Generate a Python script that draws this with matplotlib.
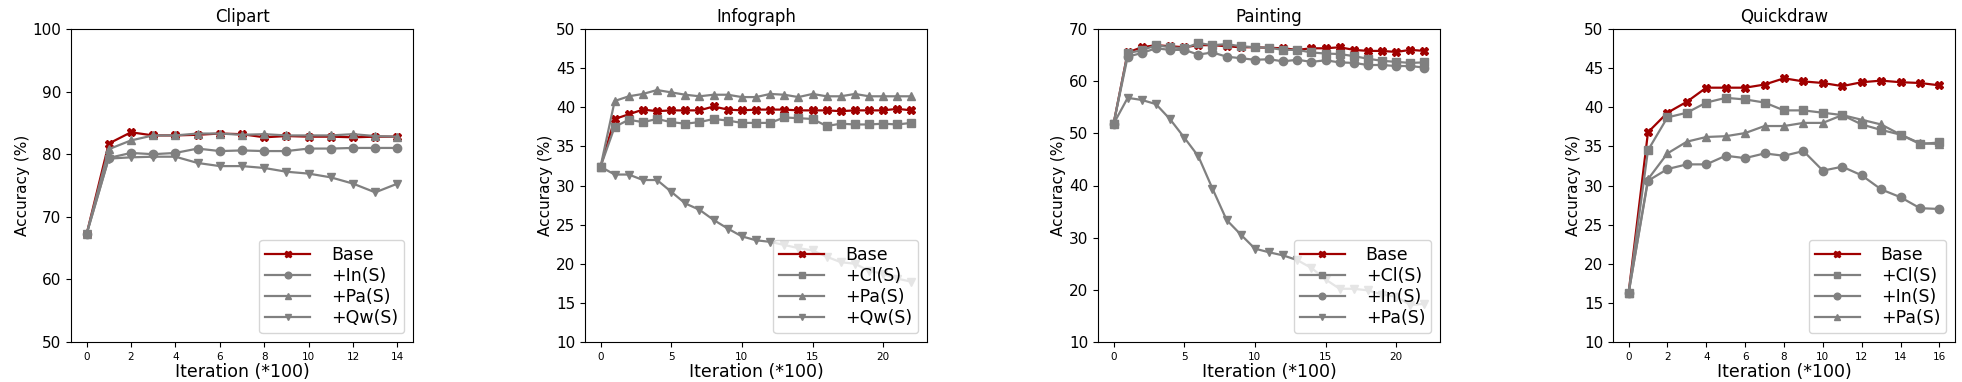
import numpy as np
import matplotlib
matplotlib.use("Agg")
import matplotlib.pyplot as plt

# Clipart panel
clip_x = np.arange(15)
clip_base = [67.2, 81.7, 83.5, 83.0, 83.0, 83.1, 83.3, 83.2, 82.7, 82.9, 82.8, 82.8, 82.7, 82.8, 82.8]
clip_in = [67.2, 79.4, 80.2, 80.0, 80.2, 80.9, 80.5, 80.6, 80.5, 80.5, 80.9, 80.9, 81.0, 81.0, 81.0]
clip_pa = [67.2, 80.8, 82.2, 83.0, 83.0, 83.3, 83.3, 83.1, 83.2, 83.0, 83.0, 83.0, 83.2, 82.9, 82.8]
clip_qw = [67.2, 79.3, 79.5, 79.6, 79.6, 78.6, 78.1, 78.1, 77.8, 77.2, 76.9, 76.3, 75.3, 73.9, 75.3]

# Infograph panel
info_x = np.arange(23)
info_base = [32.4, 38.5, 39.1, 39.7, 39.5, 39.6, 39.6, 39.6, 40.1, 39.7, 39.6, 39.7,
             39.7, 39.7, 39.6, 39.6, 39.6, 39.5, 39.6, 39.6, 39.6, 39.8, 39.6]
info_cl = [32.4, 37.5, 38.4, 38.1, 38.5, 38.1, 37.9, 38.1, 38.5, 38.3, 38.0, 38.0,
           38.0, 38.7, 38.6, 38.5, 37.6, 37.9, 37.8, 37.8, 37.9, 37.8, 38.0]
info_pa = [32.4, 40.8, 41.4, 41.7, 42.2, 41.9, 41.6, 41.4, 41.6, 41.6, 41.3, 41.3,
           41.7, 41.6, 41.3, 41.7, 41.4, 41.4, 41.7, 41.4, 41.4, 41.4, 41.4]
info_qw = [32.4, 31.4, 31.4, 30.7, 30.7, 29.2, 27.7, 26.9, 25.6, 24.5, 23.5, 23.0,
           22.8, 22.4, 22.0, 21.7, 20.9, 20.2, 20.0, 19.1, 18.7, 18.1, 17.7]

# Painting panel
paint_x = np.arange(23)
paint_base = [51.8, 65.5, 66.5, 66.9, 66.7, 66.5, 66.9, 66.9, 66.7, 66.5, 66.5, 66.4,
              66.3, 66.0, 66.3, 66.3, 66.5, 66.0, 65.8, 65.8, 65.6, 66.0, 65.8]
paint_cl = [51.8, 65.4, 65.9, 66.9, 66.5, 66.3, 67.3, 66.9, 67.1, 66.7, 66.5, 66.4,
            66.0, 66.0, 65.5, 65.3, 65.2, 64.8, 64.3, 63.9, 63.7, 63.5, 63.6]
paint_in = [51.8, 64.7, 65.4, 66.3, 66.0, 66.0, 65.1, 65.5, 64.7, 64.4, 64.1, 64.2,
            63.8, 64.1, 63.7, 64.0, 63.6, 63.5, 63.1, 63.1, 62.9, 62.9, 62.6]
paint_pa = [51.8, 56.8, 56.4, 55.6, 52.7, 49.2, 45.6, 39.4, 33.4, 30.6, 27.9, 27.2,
            26.6, 25.7, 24.2, 22.0, 20.2, 20.2, 19.9, 19.1, 18.7, 17.1, 17.3]

# Quickdraw panel
quick_x = np.arange(17)
quick_base = [16.2, 36.8, 39.3, 40.7, 42.5, 42.5, 42.5, 42.9, 43.7, 43.3, 43.1, 42.7, 43.2, 43.4, 43.2, 43.1, 42.8]
quick_cl = [16.2, 34.5, 38.7, 39.3, 40.6, 41.2, 41.0, 40.6, 39.6, 39.6, 39.3, 39.0, 37.8, 37.1, 36.5, 35.3, 35.5]
quick_in = [16.2, 30.6, 32.1, 32.7, 32.7, 33.8, 33.5, 34.1, 33.8, 34.4, 31.9, 32.4, 31.3, 29.5, 28.5, 27.1, 27.0]
quick_pa = [16.2, 30.8, 34.1, 35.6, 36.2, 36.3, 36.7, 37.6, 37.6, 38.0, 38.0, 39.0, 38.4, 37.8, 36.5, 35.4, 35.3]

RED = "#a00000"
GREY = "#808080"

panels = [
    ("Clipart", clip_x, (50, 100), [0, 2, 4, 6, 8, 10, 12, 14], [50, 60, 70, 80, 90, 100],
     [(clip_base, "Base", "X"), (clip_in, "+In(S)", "o"), (clip_pa, "+Pa(S)", "^"), (clip_qw, "+Qw(S)", "v")]),
    ("Infograph", info_x, (10, 50), [0, 5, 10, 15, 20], [10, 15, 20, 25, 30, 35, 40, 45, 50],
     [(info_base, "Base", "X"), (info_cl, "+Cl(S)", "s"), (info_pa, "+Pa(S)", "^"), (info_qw, "+Qw(S)", "v")]),
    ("Painting", paint_x, (10, 70), [0, 5, 10, 15, 20], [10, 20, 30, 40, 50, 60, 70],
     [(paint_base, "Base", "X"), (paint_cl, "+Cl(S)", "s"), (paint_in, "+In(S)", "o"), (paint_pa, "+Pa(S)", "v")]),
    ("Quickdraw", quick_x, (10, 50), [0, 2, 4, 6, 8, 10, 12, 14, 16], [10, 15, 20, 25, 30, 35, 40, 45, 50],
     [(quick_base, "Base", "X"), (quick_cl, "+Cl(S)", "s"), (quick_in, "+In(S)", "o"), (quick_pa, "+Pa(S)", "^")]),
]

lefts = [71, 585, 1098, 1613]
W, H = 1962, 382

fig = plt.figure(figsize=(W / 100, H / 100), dpi=100)

for left, (title, x, ylim, xt, yt, series) in zip(lefts, panels):
    ax = fig.add_axes([left / W, 40 / H, 342 / W, 313 / H])
    for i, (vals, label, mk) in enumerate(series):
        color = RED if i == 0 else GREY
        ax.plot(x, vals, color=color, marker=mk, markersize=6, linewidth=1.6, label=label)

    ax.legend(loc="lower right", fontsize=12.5, handlelength=2.6, labelspacing=0.18,
              handletextpad=1.2, borderpad=0.35, markerscale=0.8)

    ax.set_ylim(*ylim)
    ax.set_yticks(yt)
    ax.set_xticks(xt)
    ax.tick_params(axis="y", labelsize=11)
    ax.tick_params(axis="x", labelsize=7.5)
    ax.set_title(title, fontsize=12, pad=5)
    ax.set_xlabel("Iteration (*100)", fontsize=12.5, labelpad=1)
    ax.set_ylabel("Accuracy (%)", fontsize=11, labelpad=2)

fig.savefig("out.png", dpi=100)
